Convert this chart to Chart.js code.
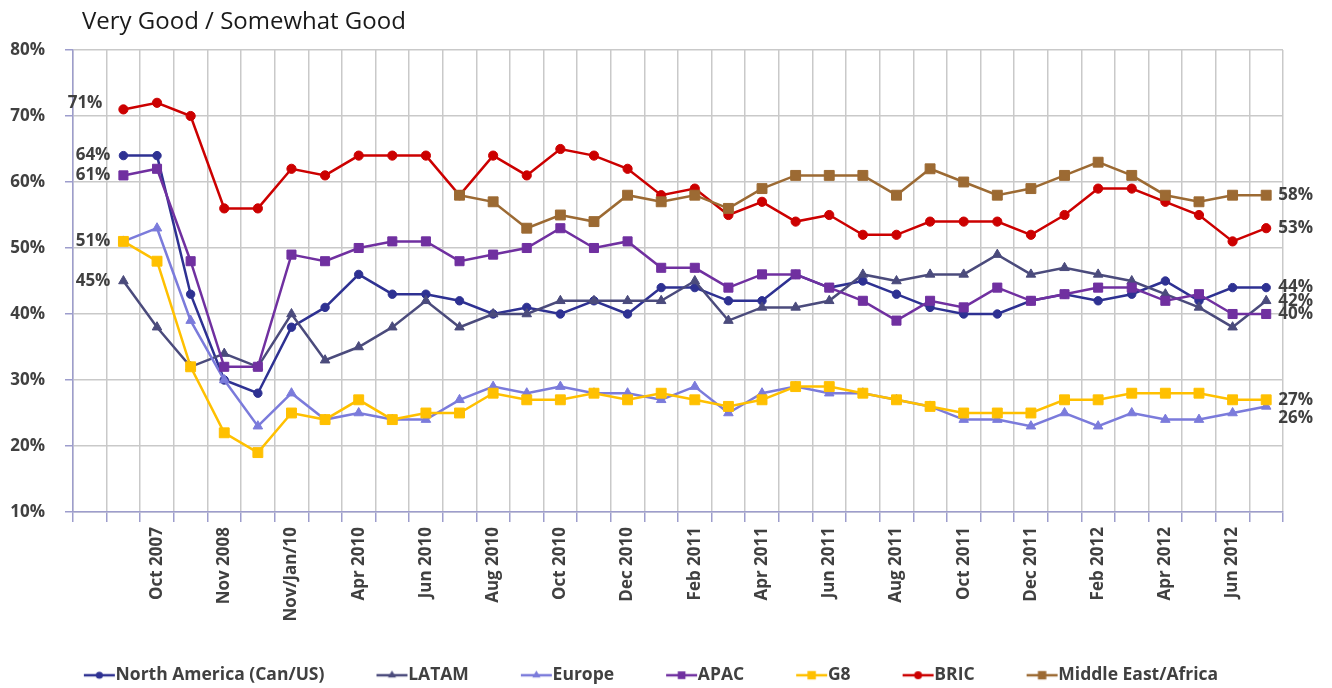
<!DOCTYPE html>
<html>
<head>
<meta charset="utf-8">
<script src="https://cdn.jsdelivr.net/npm/chart.js@4/dist/chart.umd.min.js"></script>
<style>
  html, body { margin: 0; padding: 0; background: #fff; }
</style>
</head>
<body>
<canvas id="chart" width="1332" height="688"></canvas>
<script>
// every other survey wave gets a label, first slot is an empty band
const waves = ['', '', 'Oct 2007', '', 'Nov 2008', '', 'Nov/Jan/10', '', 'Apr 2010', '', 'Jun 2010', '',
  'Aug 2010', '', 'Oct 2010', '', 'Dec 2010', '', 'Feb 2011', '', 'Apr 2011', '', 'Jun 2011', '',
  'Aug 2011', '', 'Oct 2011', '', 'Dec 2011', '', 'Feb 2012', '', 'Apr 2012', '', 'Jun 2012', ''];

const northAmerica = [null, 64, 64, 43, 30, 28, 38, 41, 46, 43, 43, 42, 40, 41, 40, 42, 40, 44, 44, 42, 42,
  46, 44, 45, 43, 41, 40, 40, 42, 43, 42, 43, 45, 42, 44, 44];
const latam = [null, 45, 38, 32, 34, 32, 40, 33, 35, 38, 42, 38, 40, 40, 42, 42, 42, 42, 45, 39, 41,
  41, 42, 46, 45, 46, 46, 49, 46, 47, 46, 45, 43, 41, 38, 42];
const europe = [null, 51, 53, 39, 30, 23, 28, 24, 25, 24, 24, 27, 29, 28, 29, 28, 28, 27, 29, 25, 28,
  29, 28, 28, 27, 26, 24, 24, 23, 25, 23, 25, 24, 24, 25, 26];
const apac = [null, 61, 62, 48, 32, 32, 49, 48, 50, 51, 51, 48, 49, 50, 53, 50, 51, 47, 47, 44, 46,
  46, 44, 42, 39, 42, 41, 44, 42, 43, 44, 44, 42, 43, 40, 40];
const g8 = [null, 51, 48, 32, 22, 19, 25, 24, 27, 24, 25, 25, 28, 27, 27, 28, 27, 28, 27, 26, 27,
  29, 29, 28, 27, 26, 25, 25, 25, 27, 27, 28, 28, 28, 27, 27];
const bric = [null, 71, 72, 70, 56, 56, 62, 61, 64, 64, 64, 58, 64, 61, 65, 64, 62, 58, 59, 55, 57,
  54, 55, 52, 52, 54, 54, 54, 52, 55, 59, 59, 57, 55, 51, 53];
const meAfrica = [null, null, null, null, null, null, null, null, null, null, null, 58, 57, 53, 55, 54, 58, 57, 58, 56, 59,
  61, 61, 61, 58, 62, 60, 58, 59, 61, 63, 61, 58, 57, 58, 58];

const yTicks = [10, 20, 30, 40, 50, 60, 70, 80];

const textColor = '#404040';
const axisBlue = '#9d9dcc';
const gridGrey = '#c9c9c9';
const fontFamily = '"Open Sans", "DejaVu Sans", sans-serif';

let seriesCount = 0;
function series(label, data, color, style, radius, edge) {
  seriesCount++;
  return {
    label, data,
    borderColor: color,
    backgroundColor: color,
    borderWidth: 2.5,
    pointStyle: style,
    pointRadius: radius,
    pointBorderWidth: 1,
    pointBorderColor: color,
    pointBackgroundColor: color,
    pointHoverRadius: radius,
    tension: 0,
    order: 10 - seriesCount, // later series on top, like the original
    edge: edge
  };
}

// line + marker image for the legend, drawn in the right part of a wider box
function legendIcon(ds) {
  const c = document.createElement('canvas');
  c.width = 60;
  c.height = 16;
  const g = c.getContext('2d');
  g.strokeStyle = ds.borderColor;
  g.fillStyle = ds.borderColor;
  g.lineWidth = 2.5;
  g.beginPath();
  g.moveTo(28, 8);
  g.lineTo(59, 8);
  g.stroke();
  const cx = 43.5, cy = 8, r = ds.pointRadius * 0.85;
  g.beginPath();
  if (ds.pointStyle === 'circle') {
    g.arc(cx, cy, r, 0, Math.PI * 2);
  } else if (ds.pointStyle === 'triangle') {
    g.moveTo(cx, cy - r);
    g.lineTo(cx + r * 0.87, cy + r * 0.5);
    g.lineTo(cx - r * 0.87, cy + r * 0.5);
    g.closePath();
  } else {
    const s = r * Math.SQRT1_2;
    g.rect(cx - s, cy - s, 2 * s, 2 * s);
  }
  g.fill();
  return c;
}

const edgeLabels = {
  id: 'edgeLabels',
  afterDatasetsDraw(chart) {
    const ctx = chart.ctx;
    ctx.save();
    ctx.font = 'bold 17px ' + fontFamily;
    ctx.fillStyle = textColor;
    ctx.textBaseline = 'middle';
    chart.data.datasets.forEach((ds, i) => {
      const meta = chart.getDatasetMeta(i);
      const idx = ds.data.map((v, j) => v == null ? -1 : j).filter(j => j >= 0);
      const first = idx[0], last = idx[idx.length - 1];
      if (ds.edge.left) {
        const p = meta.data[first];
        ctx.textAlign = 'right';
        ctx.fillText(ds.data[first] + '%', p.x - (ds.edge.dxLeft || 13), p.y + (ds.edge.dyLeft || 0));
      }
      const q = meta.data[last];
      ctx.textAlign = 'left';
      ctx.fillText(ds.data[last] + '%', q.x + 12, q.y + (ds.edge.dyRight || 0));
    });
    ctx.restore();
  }
};

const titleText = {
  id: 'titleText',
  afterDraw(chart) {
    const ctx = chart.ctx;
    ctx.save();
    ctx.font = '24px ' + fontFamily;
    ctx.fillStyle = '#1a1a1a';
    ctx.textAlign = 'left';
    ctx.textBaseline = 'alphabetic';
    ctx.fillText('Very Good / Somewhat Good', chart.chartArea.left + 9, 29);
    ctx.restore();
  }
};

// nudge the legend row down a little
const legendNudge = {
  id: 'legendNudge',
  afterLayout(chart) {
    if (chart.legend) {
      chart.legend.top += 6;
      chart.legend.bottom += 6;
    }
  }
};

new Chart(document.getElementById('chart'), {
  type: 'line',
  data: {
    labels: waves,
    datasets: [
      series('North America (Can/US)', northAmerica, '#2e3192', 'circle', 4.2, { left: true }),
      series('LATAM', latam, '#4b4b7c', 'triangle', 5.5, { left: true }),
      series('Europe', europe, '#7b7bdb', 'triangle', 5.5, { left: false, dyRight: 12 }),
      series('APAC', apac, '#7030a0', 'rect', 6.4, { left: true }),
      series('G8', g8, '#ffc000', 'rect', 7, { left: true }),
      series('BRIC', bric, '#cc0000', 'circle', 4.6, { left: true, dyLeft: -6, dxLeft: 21 }),
      series('Middle East/Africa', meAfrica, '#9c6a33', 'rect', 7, { left: false })
    ]
  },
  options: {
    responsive: false,
    animation: false,
    devicePixelRatio: 1,
    layout: { padding: { top: 50, right: 49, left: 0, bottom: 0 } },
    scales: {
      x: {
        offset: true,
        grid: { offset: true, color: gridGrey, lineWidth: 1.5, tickLength: 10, tickColor: axisBlue },
        border: { color: axisBlue, width: 1.5 },
        ticks: {
          autoSkip: false, maxRotation: 90, minRotation: 90, padding: 5,
          color: textColor, font: { family: fontFamily, size: 17, weight: 'bold' }
        },
        afterFit: s => { s.height = 115.5; }
      },
      y: {
        min: 10, max: 80,
        afterBuildTicks: s => { s.ticks = yTicks.map(v => ({ value: v })); },
        grid: { color: gridGrey, lineWidth: 1.5, tickLength: 8, tickColor: axisBlue },
        border: { color: axisBlue, width: 1.5 },
        ticks: {
          padding: 20, color: textColor,
          font: { family: fontFamily, size: 17, weight: 'bold' },
          callback: v => v + '%'
        },
        afterFit: s => { s.width = 73; }
      }
    },
    plugins: {
      title: { display: false },
      tooltip: { enabled: false },
      legend: {
        position: 'bottom',
        labels: {
          usePointStyle: true,
          pointStyleWidth: 42,
          padding: 33,
          color: textColor,
          font: { family: fontFamily, size: 17.5, weight: 'bold' },
          generateLabels: chart => chart.data.datasets.map((ds, i) => ({
            text: ds.label,
            pointStyle: legendIcon(ds),
            fillStyle: ds.borderColor,
            strokeStyle: ds.borderColor,
            lineWidth: 0,
            fontColor: textColor,
            hidden: false,
            datasetIndex: i
          }))
        }
      }
    }
  },
  plugins: [edgeLabels, titleText, legendNudge]
});
</script>
</body>
</html>
